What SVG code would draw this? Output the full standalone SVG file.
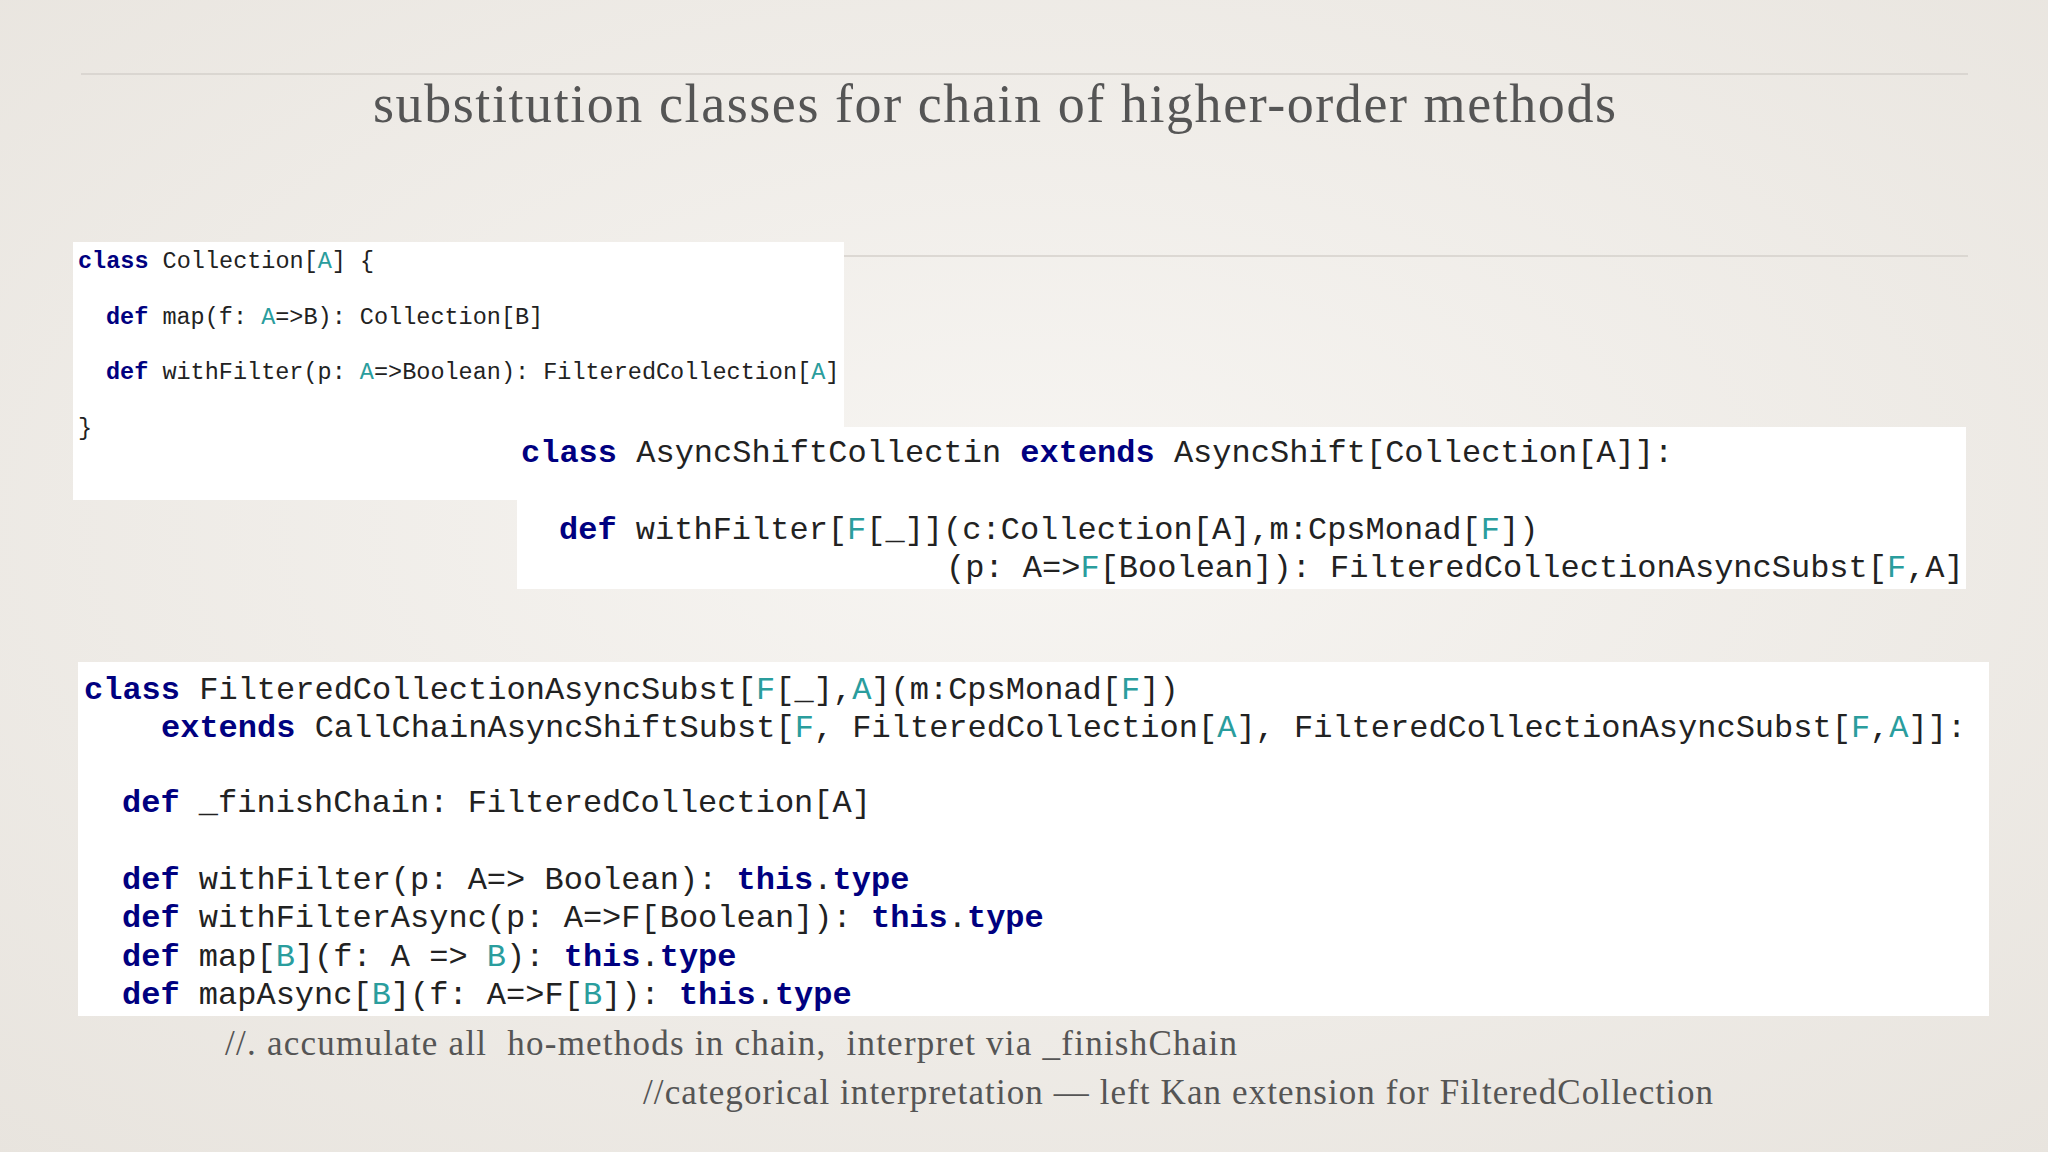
<svg xmlns="http://www.w3.org/2000/svg" width="2048" height="1152" viewBox="0 0 2048 1152">
<defs>
<radialGradient id="bg" cx="0.5" cy="0.45" r="0.75">
<stop offset="0" stop-color="#f7f5f2"/><stop offset="1" stop-color="#e8e4de"/>
</radialGradient>
<style>
.c{font-family:"Liberation Mono",monospace;fill:#222;white-space:pre}
.k{fill:#000080;font-weight:bold}
.t{fill:#2a9d9d}
.s{font-family:"Liberation Serif",serif;fill:#555}
.box{fill:#fff}
.rule{stroke:#d4d0cb;stroke-width:1.5}
</style>
</defs>
<rect width="2048" height="1152" fill="url(#bg)"/>
<line class="rule" x1="81" y1="74" x2="1968" y2="74"/>
<line class="rule" x1="844" y1="256" x2="1968" y2="256"/>
<text class="s" x="373" y="122" font-size="54" textLength="1243" fill="#444">substitution classes for chain of higher-order methods</text>
<g id="collection">
<rect class="box" x="73" y="242" width="771" height="258"/>
<g class="c" font-size="23.5">
<text x="78" y="268"><tspan class="k">class</tspan> Collection[<tspan class="t">A</tspan>] {</text>
<text x="106" y="324"><tspan class="k">def</tspan> map(f: <tspan class="t">A</tspan>=&gt;B): Collection[B]</text>
<text x="106" y="379"><tspan class="k">def</tspan> withFilter(p: <tspan class="t">A</tspan>=&gt;Boolean): FilteredCollection[<tspan class="t">A</tspan>]</text>
<text x="78" y="435">}</text>
</g>
</g>
<g id="asyncshift">
<rect class="box" x="517" y="427" width="1449" height="162"/>
<g class="c" font-size="32">
<text x="521" y="462"><tspan class="k">class</tspan> AsyncShiftCollectin <tspan class="k">extends</tspan> AsyncShift[Collection[A]]:</text>
<text x="559" y="539"><tspan class="k">def</tspan> withFilter[<tspan class="t">F</tspan>[_]](c:Collection[A],m:CpsMonad[<tspan class="t">F</tspan>])</text>
<text x="946" y="577">(p: A=&gt;<tspan class="t">F</tspan>[Boolean]): FilteredCollectionAsyncSubst[<tspan class="t">F</tspan>,A]</text>
</g>
</g>
<g id="filtered">
<rect class="box" x="78" y="662" width="1911" height="354"/>
<g class="c" font-size="32">
<text x="84" y="699"><tspan class="k">class</tspan> FilteredCollectionAsyncSubst[<tspan class="t">F</tspan>[_],<tspan class="t">A</tspan>](m:CpsMonad[<tspan class="t">F</tspan>])</text>
<text x="161" y="737"><tspan class="k">extends</tspan> CallChainAsyncShiftSubst[<tspan class="t">F</tspan>, FilteredCollection[<tspan class="t">A</tspan>], FilteredCollectionAsyncSubst[<tspan class="t">F</tspan>,<tspan class="t">A</tspan>]]:</text>
<text x="122" y="812"><tspan class="k">def</tspan> _finishChain: FilteredCollection[A]</text>
<text x="122" y="889"><tspan class="k">def</tspan> withFilter(p: A=&gt; Boolean): <tspan class="k">this</tspan>.<tspan class="k">type</tspan></text>
<text x="122" y="927"><tspan class="k">def</tspan> withFilterAsync(p: A=&gt;F[Boolean]): <tspan class="k">this</tspan>.<tspan class="k">type</tspan></text>
<text x="122" y="966"><tspan class="k">def</tspan> map[<tspan class="t">B</tspan>](f: A =&gt; <tspan class="t">B</tspan>): <tspan class="k">this</tspan>.<tspan class="k">type</tspan></text>
<text x="122" y="1004"><tspan class="k">def</tspan> mapAsync[<tspan class="t">B</tspan>](f: A=&gt;F[<tspan class="t">B</tspan>]): <tspan class="k">this</tspan>.<tspan class="k">type</tspan></text>
</g>
</g>
<g id="comments">
<text class="s" x="225" y="1055" font-size="35" textLength="1012" xml:space="preserve">//. accumulate all  ho-methods in chain,  interpret via _finishChain</text>
<text class="s" x="643" y="1104" font-size="35" textLength="1070">//categorical interpretation — left Kan extension for FilteredCollection</text>
</g>
</svg>
